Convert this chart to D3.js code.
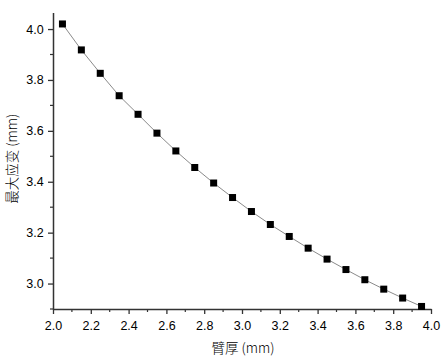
<!DOCTYPE html>
<html>
<head>
<meta charset="utf-8">
<script src="https://cdn.jsdelivr.net/npm/d3@7"></script>
<style>
  html, body { margin: 0; padding: 0; background: #fff; }
  svg { display: block; font-family: "Liberation Sans", Arial, sans-serif; }
  .axis path, .axis line { stroke: #333; }
  .axis path { stroke-width: 1.5px; }
  .axis text { font-size: 12.5px; fill: #000; }
</style>
</head>
<body>
<div id="chart"></div>
<script>
// arm thickness (mm) vs max strain (mm)
const thickness = [2.05, 2.15, 2.25, 2.35, 2.45, 2.55, 2.65, 2.75, 2.85, 2.95,
                   3.05, 3.15, 3.25, 3.35, 3.45, 3.55, 3.65, 3.75, 3.85, 3.95];
const maxStrain = [4.020, 3.918, 3.826, 3.738, 3.665, 3.591, 3.521, 3.456, 3.395, 3.338,
                   3.283, 3.232, 3.185, 3.139, 3.096, 3.055, 3.015, 2.978, 2.943, 2.910];
const xTicks = [2.0, 2.2, 2.4, 2.6, 2.8, 3.0, 3.2, 3.4, 3.6, 3.8, 4.0];
const yTicks = [3.0, 3.2, 3.4, 3.6, 3.8, 4.0];
const xLabel = "臂厚 (mm)";
const yLabel = "最大应变 (mm)";

const W = 445, H = 360;
const m = { left: 53, right: 14, top: 12.5, bottom: 51 };

const svg = d3.select("#chart").append("svg").attr("width", W).attr("height", H);

const x = d3.scaleLinear().domain([2.0, 4.0]).range([m.left, W - m.right]);
const y = d3.scaleLinear().domain([2.9, 4.065]).range([H - m.bottom, m.top]);

const pts = thickness.map((t, i) => [t, maxStrain[i]]);

// minor ticks (halfway between majors)
const xMinor = d3.range(2.1, 4.0, 0.2);
const yMinor = d3.range(2.9, 4.06, 0.2);

const gx = svg.append("g").attr("class", "axis").attr("transform", `translate(0,${H - m.bottom})`)
  .call(d3.axisBottom(x).tickValues(xTicks).tickFormat(d3.format(".1f")).tickSize(5).tickSizeOuter(0));
gx.selectAll("text").attr("dy", "1.05em");
gx.selectAll(".tick line").attr("stroke-width", 1.3);
svg.append("g").attr("transform", `translate(0,${H - m.bottom})`)
  .selectAll("line").data(xMinor).join("line")
  .attr("x1", d => x(d)).attr("x2", d => x(d)).attr("y1", 0).attr("y2", 3)
  .attr("stroke", "#333").attr("stroke-width", 1.2);

const gy = svg.append("g").attr("class", "axis").attr("transform", `translate(${m.left},0)`)
  .call(d3.axisLeft(y).tickValues(yTicks).tickFormat(d3.format(".1f")).tickSize(5).tickSizeOuter(0));
gy.selectAll("text").attr("dx", "-0.1em");
gy.selectAll(".tick line").attr("stroke-width", 1.3);
svg.append("g").attr("transform", `translate(${m.left},0)`)
  .selectAll("line").data(yMinor).join("line")
  .attr("x1", 0).attr("x2", -3).attr("y1", d => y(d)).attr("y2", d => y(d))
  .attr("stroke", "#333").attr("stroke-width", 1.2);

// line + square markers
svg.append("path").datum(pts)
  .attr("fill", "none").attr("stroke", "#8a8a8a").attr("stroke-width", 1)
  .attr("d", d3.line().x(d => x(d[0])).y(d => y(d[1])));

const s = 7;
svg.selectAll("rect.pt").data(pts).join("rect").attr("class", "pt")
  .attr("x", d => x(d[0]) - s / 2).attr("y", d => y(d[1]) - s / 2)
  .attr("width", s).attr("height", s).attr("fill", "#000");

// axis titles
svg.append("text").attr("x", (m.left + W - m.right) / 2 + 1).attr("y", 353)
  .attr("text-anchor", "middle").attr("font-size", 13.5).attr("font-weight", 300)
  .style("font-family", "'Noto Sans CJK SC', 'Liberation Sans', sans-serif")
  .text(xLabel);
svg.append("text").attr("transform", `translate(17,${(m.top + H - m.bottom) / 2 - 2}) rotate(-90)`)
  .attr("text-anchor", "middle").attr("font-size", 13.5).attr("font-weight", 300)
  .style("font-family", "'Noto Sans CJK SC', 'Liberation Sans', sans-serif")
  .text(yLabel);
</script>
</body>
</html>
